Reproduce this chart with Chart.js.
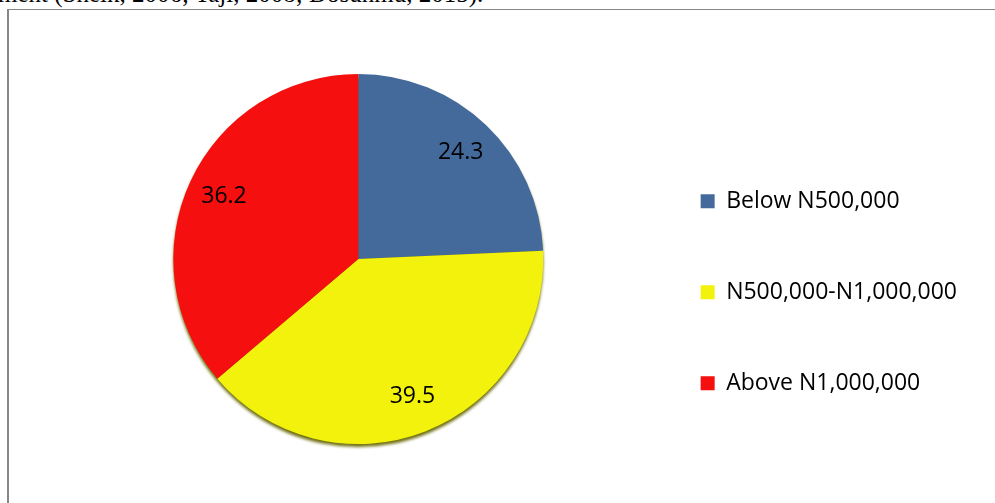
<!DOCTYPE html>
<html><head><meta charset="utf-8">
<script src="https://cdn.jsdelivr.net/npm/chart.js@4"></script>
<style>
html,body{margin:0;padding:0;background:#fff;overflow:hidden;width:995px;height:503px}
#frame{position:absolute;left:7px;top:9px;width:1100px;height:600px;border-left:2px solid #878787;border-top:1.5px solid #878787;box-sizing:border-box}
#cap{position:absolute;left:-2px;top:-19px;font-family:"Liberation Serif",serif;font-size:25px;line-height:25px;white-space:nowrap;color:#000}
canvas{position:absolute;left:0;top:0}
</style></head><body>
<div id="cap">ment (Sheik, 2006; Taji, 2008; Dosunmu, 2015).</div>
<div id="frame"></div>
<canvas id="c" width="995" height="503"></canvas>
<script>
const categories = ['Below N500,000', 'N500,000-N1,000,000', 'Above N1,000,000'];
const values = [24.3, 39.5, 36.2];
const sliceColors = ['#446A9C', '#F2F20C', '#F50F0F'];

const shadowPlugin = {
  id: 'pieShadow',
  beforeDatasetsDraw(chart) {
    const meta = chart.getDatasetMeta(0);
    if (!meta.data.length) return;
    const a = meta.data[0].getProps(['x', 'y', 'outerRadius'], true);
    const ctx = chart.ctx;
    ctx.save();
    ctx.filter = 'blur(1.5px)';
    ctx.fillStyle = '#707010';
    ctx.beginPath();
    ctx.arc(a.x, a.y + 3, a.outerRadius, 0, Math.PI * 2);
    ctx.fill();
    ctx.restore();
  }
};

const labelPlugin = {
  id: 'sliceLabels',
  afterDatasetsDraw(chart) {
    const ctx = chart.ctx;
    const meta = chart.getDatasetMeta(0);
    ctx.save();
    ctx.font = '23px "Open Sans"';
    ctx.fillStyle = '#000';
    ctx.textAlign = 'center';
    ctx.textBaseline = 'middle';
    meta.data.forEach((arc, i) => {
      const p = arc.getProps(['x', 'y', 'startAngle', 'endAngle', 'outerRadius'], true);
      const mid = (p.startAngle + p.endAngle) / 2;
      const r = p.outerRadius * 0.8;
      ctx.fillText(String(values[i]), p.x + Math.cos(mid) * r, p.y + Math.sin(mid) * r);
    });
    ctx.restore();
  }
};

new Chart(document.getElementById('c'), {
  type: 'pie',
  data: {
    labels: categories,
    datasets: [{
      data: values,
      backgroundColor: sliceColors,
      borderWidth: 0,
      radius: 185
    }]
  },
  options: {
    responsive: false,
    animation: false,
    layout: { padding: { top: 15, bottom: 0, left: 84, right: 28 } },
    plugins: {
      tooltip: { enabled: false },
      legend: {
        position: 'right',
        align: 'center',
        title: { display: true, text: ' ', padding: { top: 26, bottom: 26 }, font: { size: 12 } },
        labels: {
          boxWidth: 14,
          boxHeight: 14,
          padding: 68,
          color: '#000',
          font: { family: '"Open Sans"', size: 23 }
        }
      }
    }
  },
  plugins: [shadowPlugin, labelPlugin]
});
</script>
</body></html>
